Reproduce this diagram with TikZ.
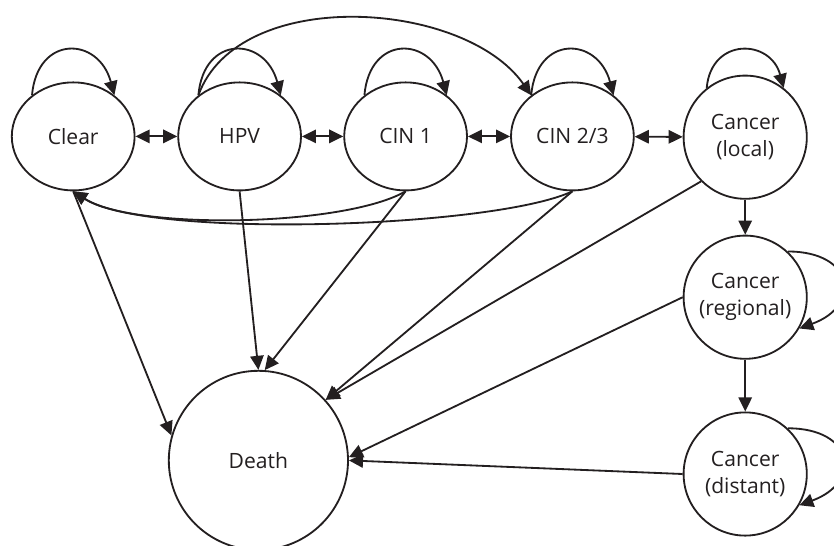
\documentclass[tikz,border=0pt]{standalone}
\usepackage{fontspec}
\setmainfont{Open Sans}
\usetikzlibrary{arrows.meta,shapes.geometric}
\definecolor{ink}{RGB}{35,31,32}
\tikzstyle{every picture}=[color=ink, >={Triangle[length=10pt,width=9.5pt]}]
\tikzstyle{every path}=[line width=1.3pt]
\tikzstyle{stage}=[draw, ellipse, minimum width=3.07cm, minimum height=2.7cm, inner sep=0pt,
    font=\fontsize{15}{19}\selectfont]
\tikzstyle{cancer}=[draw, circle, minimum size=3.08cm, inner sep=0pt, align=center,
    font=\fontsize{15}{19}\selectfont]
\tikzstyle{absorb}=[draw, circle, minimum size=4.48cm, inner sep=0pt,
    font=\fontsize{15}{19}\selectfont]
\tikzstyle{toploop}=[out=85, in=105, looseness=1.9]
\tikzstyle{sideloop}=[out=0, in=20, looseness=2.2]

\begin{document}
\begin{tikzpicture}
            \useasboundingbox (0, 0) rectangle (20.85, -13.625);

            \node[stage] (clear) at (1.83, -3.41) {Clear};
            \node[stage] (hpv) at (5.99, -3.41) {HPV};
            \node[stage] (cin1) at (10.14, -3.41) {CIN 1};
            \node[stage] (cin23) at (14.31, -3.41) {CIN 2/3};
            \node[cancer] (local) at (18.63, -3.43) {Cancer\\(local)};
            \node[cancer] (regional) at (18.63, -7.43) {Cancer\\(regional)};
            \node[cancer] (distant) at (18.63, -11.85) {Cancer\\(distant)};
            \node[absorb] (death) at (6.46, -11.51) {Death};

            \draw[<->] (clear) -- (hpv);
            \draw[<->] (hpv) -- (cin1);
            \draw[<->] (cin1) -- (cin23);
            \draw[<->] (cin23) -- (local);
            \draw[->] (local) -- (regional);
            \draw[->] (regional) -- (distant);

            \draw[->] (clear.135) to[toploop] (clear.45);
            \draw[->] (hpv.135) to[toploop] (hpv.45);
            \draw[->] (cin1.135) to[toploop] (cin1.45);
            \draw[->] (cin23.135) to[toploop] (cin23.45);
            \draw[->] (local.128) to[toploop, looseness=1.7] (local.52);
            \draw[->] (regional.47) to[sideloop] (regional.-30);
            \draw[->] (distant.47) to[sideloop] (distant.-30);

            \draw[->] (hpv.135) to[out=70, in=125, looseness=0.9] (cin23.135);
            \draw[->] (cin1.south) to[out=-150, in=-33, looseness=0.55] (clear.south);
            \draw[->] (cin23.south) to[out=-155, in=-33, looseness=0.45] (clear.south);

            \draw[->] (clear.south) -- (death.164);
            \draw[->] (hpv.south) -- (death.north);
            \draw[->] (cin1.south) -- (death.86);
            \draw[->] (cin23.south) -- (death.42);
            \draw[->] (local.225) -- (death.42);
            \draw[->] (regional.west) -- (death.2);
            \draw[->] (distant.west) -- (death.east);
        \end{tikzpicture}
\end{document}
